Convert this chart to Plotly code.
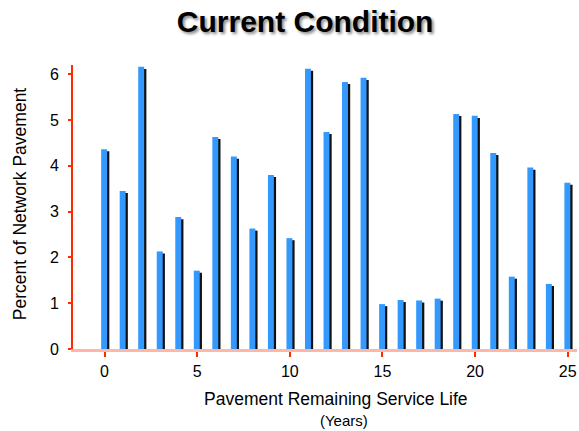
import plotly.graph_objects as go

# Remaining service life (years) and share of the network in each bucket (%)
years = list(range(26))
percent = [4.36, 3.45, 6.16, 2.13, 2.88, 1.71, 4.63, 4.20, 2.63, 3.80,
           2.42, 6.12, 4.74, 5.83, 5.92, 0.98, 1.07, 1.06, 1.10, 5.13,
           5.09, 4.28, 1.58, 3.96, 1.42, 3.63]
x_ticks = [0, 5, 10, 15, 20, 25]
y_ticks = [0, 1, 2, 3, 4, 5, 6]

FONT = "Liberation Sans, Arial, sans-serif"
RED = "#ff2a00"

fig = go.Figure()

# drop shadow behind each bar
fig.add_trace(go.Bar(
    x=years, y=[v - 0.045 for v in percent],
    width=0.3, offset=-0.04,
    marker=dict(color="#111111", line=dict(width=0)),
    hoverinfo="skip", showlegend=False,
))
# main bars
fig.add_trace(go.Bar(
    x=years, y=percent,
    width=0.32, offset=-0.18,
    marker=dict(color="#3399ff", line=dict(width=0)),
    showlegend=False,
))

fig.update_layout(
    width=579, height=431,
    barmode="overlay",
    plot_bgcolor="white", paper_bgcolor="white",
    margin=dict(l=73, r=2, t=65, b=82),
    font=dict(family=FONT, color="black"),
    title=dict(
        text="<b>Current Condition</b>",
        x=0.527, xanchor="center", y=0.951, yanchor="middle",
        font=dict(size=30, family=FONT, color="black",
                  shadow="2px 2px 3px #888888"),
    ),
    xaxis=dict(
        range=[-1.7, 25.5],
        tickvals=x_ticks, ticktext=[str(t) for t in x_ticks],
        ticks="outside", ticklen=5, tickwidth=2, tickcolor=RED,
        showline=True, linecolor="#ffb6a6", linewidth=3,
        showgrid=False, zeroline=False,
        tickfont=dict(size=16, family=FONT),
        ticklabelstandoff=1,
    ),
    yaxis=dict(
        range=[0, 6.2],
        tickvals=y_ticks,
        ticks="outside", ticklen=3, tickwidth=2, tickcolor=RED,
        showline=True, linecolor=RED, linewidth=2,
        showgrid=False, zeroline=False,
        tickfont=dict(size=16, family=FONT),
        ticklabelstandoff=6,
    ),
    annotations=[
        dict(text="Percent of Network Pavement", xref="paper", yref="paper",
             x=-0.105, y=0.51, xanchor="center", yanchor="middle", textangle=-90,
             showarrow=False, font=dict(size=17.5, family=FONT)),
        dict(text="Pavement Remaining Service Life", xref="paper", yref="paper",
             x=0.521, y=-0.176, xanchor="center", yanchor="middle",
             showarrow=False, font=dict(size=17.5, family=FONT)),
        dict(text="(Years)", xref="paper", yref="paper",
             x=0.537, y=-0.253, xanchor="center", yanchor="middle",
             showarrow=False, font=dict(size=15, family=FONT)),
    ],
)

fig.write_html("out.html")
